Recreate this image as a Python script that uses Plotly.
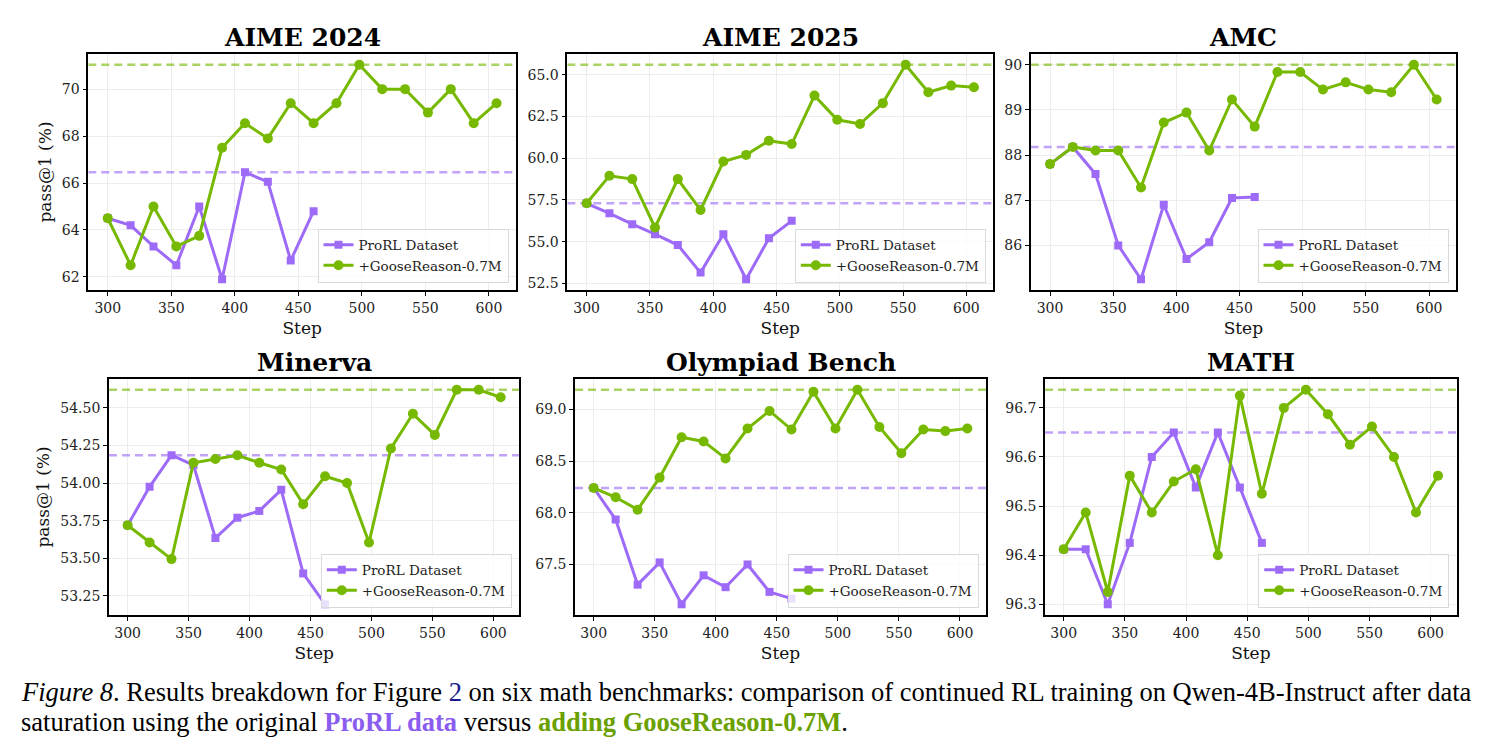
import plotly.graph_objects as go

# ---------------- data ----------------
steps_prorl = [300, 318, 336, 354, 372, 390, 408, 426, 444, 462]
steps_goose = [300, 318, 336, 354, 372, 390, 408, 426, 444, 462,
               480, 498, 516, 534, 552, 570, 588, 606]

titles = ["AIME 2024", "AIME 2025", "AMC", "Minerva", "Olympiad Bench", "MATH"]

aime24_prorl = [64.5, 64.2, 63.3, 62.5, 65.0, 61.9, 66.46, 66.05, 62.7, 64.8]
aime24_goose = [64.5, 62.5, 65.0, 63.3, 63.75, 67.5, 68.55, 67.9, 69.4, 68.55,
                69.4, 71.04, 70.0, 70.0, 69.0, 70.0, 68.55, 69.4]

aime25_prorl = [57.3, 56.7, 56.05, 55.45, 54.8, 53.15, 55.45, 52.75, 55.2, 56.25]
aime25_goose = [57.3, 58.95, 58.75, 55.85, 58.75, 56.9, 59.8, 60.2, 61.05, 60.85,
                63.75, 62.3, 62.05, 63.3, 65.6, 63.95, 64.35, 64.25]

amc_prorl = [87.8, 88.18, 87.58, 86.0, 85.25, 86.9, 85.7, 86.07, 87.05, 87.07]
amc_goose = [87.8, 88.18, 88.1, 88.1, 87.28, 88.72, 88.94, 88.1, 89.23, 88.63,
             89.84, 89.84, 89.45, 89.61, 89.45, 89.39, 90.0, 89.23]

minerva_prorl = [53.72, 53.975, 54.185, 54.12, 53.635, 53.77, 53.815, 53.955, 53.40, 53.195]
minerva_goose = [53.72, 53.605, 53.495, 54.135, 54.16, 54.185, 54.135, 54.09, 53.86, 54.045,
                 54.0, 53.605, 54.23, 54.46, 54.32, 54.62, 54.62, 54.57]

olym_prorl = [68.24, 67.935, 67.305, 67.52, 67.115, 67.395, 67.28, 67.5, 67.235, 67.17]
olym_goose = [68.24, 68.15, 68.03, 68.34, 68.73, 68.69, 68.525, 68.815, 68.985, 68.805,
              69.17, 68.815, 69.19, 68.83, 68.575, 68.805, 68.79, 68.815]

math_prorl = [96.412, 96.412, 96.3, 96.425, 96.6, 96.65, 96.538, 96.65, 96.538, 96.425]
math_goose = [96.412, 96.487, 96.325, 96.562, 96.487, 96.55, 96.575, 96.4, 96.725, 96.525,
              96.7, 96.737, 96.687, 96.625, 96.662, 96.6, 96.487, 96.562]

prorl_series = [aime24_prorl, aime25_prorl, amc_prorl, minerva_prorl, olym_prorl, math_prorl]
goose_series = [aime24_goose, aime25_goose, amc_goose, minerva_goose, olym_goose, math_goose]

y_dticks = [2, 2.5, 1, 0.25, 0.5, 0.1]
y_formats = [".0f", ".1f", ".0f", ".2f", ".1f", ".1f"]
x_ticks = [300, 350, 400, 450, 500, 550, 600]

# ---------------- style ----------------
W, H = 1491, 755
PURPLE = "#9D6BF7"
GREEN = "#76B900"
PURPLE_DASH = "rgba(157,107,247,0.62)"
GREEN_DASH = "rgba(118,185,0,0.62)"
SERIF = "DejaVu Serif"

# subplot pixel boxes (left, right, top, bottom)
boxes = [
    (88.3, 516.0, 54, 290),
    (567.3, 993.3, 54, 290),
    (1030.7, 1456.0, 54, 290),
    (109.0, 519.3, 379, 615),
    (575.0, 986.0, 379, 615),
    (1045.0, 1456.7, 379, 615),
]
title_y = [37, 37, 37, 362, 362, 362]

fig = go.Figure()
layout = dict(
    width=W, height=H,
    margin=dict(l=0, r=0, t=0, b=0),
    paper_bgcolor="white", plot_bgcolor="white",
    showlegend=True,
    font=dict(family=SERIF, size=14, color="#222"),
)
annotations = []

xmin_all = min(steps_prorl + steps_goose)
xmax_all = max(steps_prorl + steps_goose)
xpad = 0.05 * (xmax_all - xmin_all)
xr = [xmin_all - xpad, xmax_all + xpad]

for i in range(6):
    n = "" if i == 0 else str(i + 1)
    xa, ya = "x" + n, "y" + n
    lg = "legend" + n
    l, r, t, b = boxes[i]
    pr, gs = prorl_series[i], goose_series[i]

    # best-value reference lines (drawn first, under the series)
    for val, col in ((max(pr), PURPLE_DASH), (max(gs), GREEN_DASH)):
        fig.add_trace(go.Scatter(
            x=xr, y=[val, val], xaxis=xa, yaxis=ya, legend=lg,
            mode="lines", showlegend=False, hoverinfo="skip",
            line=dict(color=col, width=2.5, dash="8px,5px"),
        ))

    fig.add_trace(go.Scatter(
        x=steps_prorl, y=pr, xaxis=xa, yaxis=ya, legend=lg,
        mode="lines+markers", name="ProRL Dataset",
        line=dict(color=PURPLE, width=3),
        marker=dict(symbol="square", size=8, color=PURPLE),
    ))
    fig.add_trace(go.Scatter(
        x=steps_goose, y=gs, xaxis=xa, yaxis=ya, legend=lg,
        mode="lines+markers", name="+GooseReason-0.7M",
        line=dict(color=GREEN, width=3),
        marker=dict(symbol="circle", size=10, color=GREEN),
    ))

    allv = pr + gs
    lo, hi = min(allv), max(allv)
    pad = 0.05 * (hi - lo)

    layout["xaxis" + n] = dict(
        domain=[l / W, r / W], anchor=ya,
        range=xr,
        tickmode="array", tickvals=x_ticks,
        showgrid=True, gridcolor="#ececec", gridwidth=1,
        showline=True, linecolor="black", linewidth=1.6, mirror=True,
        ticks="outside", ticklen=4, tickwidth=1, tickcolor="black",
        tickfont=dict(family=SERIF, size=14, color="#222"),
        title=dict(text="Step", font=dict(family=SERIF, size=17, color="#111"), standoff=8),
        zeroline=False,
    )
    layout["yaxis" + n] = dict(
        domain=[1 - b / H, 1 - t / H], anchor=xa,
        range=[lo - pad, hi + pad],
        tick0=0, dtick=y_dticks[i], tickformat=y_formats[i],
        showgrid=True, gridcolor="#ececec", gridwidth=1,
        showline=True, linecolor="black", linewidth=1.6, mirror=True,
        ticks="outside", ticklen=4, tickwidth=1, tickcolor="black",
        tickfont=dict(family=SERIF, size=14, color="#222"),
        zeroline=False,
    )
    if i % 3 == 0:
        layout["yaxis" + n]["title"] = dict(
            text="pass@1 (%)", font=dict(family=SERIF, size=17, color="#111"), standoff=6)

    layout[lg] = dict(
        x=(r - 7.5) / W, y=1 - (b - 7.5) / H, xanchor="right", yanchor="bottom",
        bgcolor="rgba(255,255,255,0.8)", bordercolor="#d9d9d9", borderwidth=1,
        font=dict(family=SERIF, size=13.5, color="#222"),
        itemwidth=30, tracegroupgap=0,
    )

    annotations.append(dict(
        text="<b>%s</b>" % titles[i], xref="paper", yref="paper",
        x=(l + r) / 2 / W, y=1 - title_y[i] / H, xanchor="center", yanchor="middle",
        showarrow=False, font=dict(family=SERIF, size=25, color="black"),
    ))

# caption
cap1 = ("<i>Figure 8</i>. Results breakdown for Figure <span style='color:#1a1a8c'>2</span> "
        "on six math benchmarks: comparison of continued RL training on Qwen-4B-Instruct after data")
cap2 = ("saturation using the original <b><span style='color:#8A5CF0'>ProRL data</span></b> versus "
        "<b><span style='color:#6AA000'>adding GooseReason-0.7M</span></b>.")
for txt, yy in ((cap1, 692), (cap2, 722)):
    annotations.append(dict(
        text=txt, xref="paper", yref="paper", x=19 / W, y=1 - yy / H,
        xanchor="left", yanchor="middle", showarrow=False,
        font=dict(family="Liberation Serif", size=26.5, color="black"),
    ))

layout["annotations"] = annotations
fig.update_layout(**layout)

fig.write_html("out.html")
